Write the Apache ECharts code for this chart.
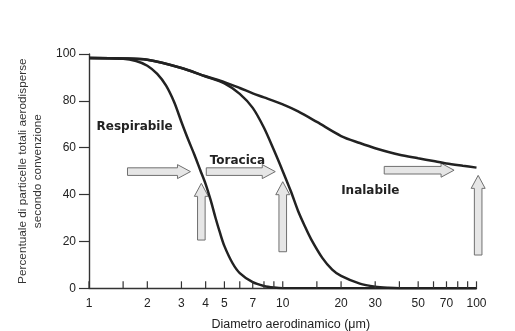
<!DOCTYPE html>
<html><head><meta charset="utf-8">
<script src="https://cdn.jsdelivr.net/npm/echarts@6/dist/echarts.min.js"></script>
<style>html,body{margin:0;padding:0;background:#fff}#c{width:515px;height:331px}</style>
</head><body><div id="c"></div>
<script>
// Diameters (µm) and percentages
const inhalD   = [1, 1.5, 2, 3, 4, 5, 6, 7, 8, 10, 12, 15, 20, 25, 30, 40, 50, 60, 70, 85, 100];
const inhalPct = [98.3, 98.1, 97.5, 94, 90.5, 88, 85.5, 83.2, 81.5, 78.5, 75.5, 71, 65, 62, 59.8, 57, 55.5, 54.3, 53.3, 52.3, 51.5];

const thorD   = [1, 1.5, 2, 3, 4, 5, 6, 7, 8, 9, 10, 11, 12, 13, 14, 16, 18, 20, 25, 30, 35, 40, 60, 100];
const thorPct = [98.3, 98.1, 97.5, 94, 90.4, 87.5, 83, 77, 68.5, 59, 50, 41.5, 33, 26.5, 21, 13, 8, 5.3, 2, 0.7, 0.2, 0, 0, 0];

const respD   = [1, 1.5, 1.75, 2, 2.25, 2.5, 2.75, 3, 3.25, 3.5, 3.75, 4, 4.25, 4.5, 4.75, 5, 5.5, 6, 7, 8, 9, 10, 12, 20, 100];
const respPct = [98.3, 98, 97, 95, 91.5, 86.5, 79.5, 71, 63.5, 57, 50.5, 44.5, 37.5, 30, 23.5, 18, 10.8, 6.5, 2.6, 1.0, 0.3, 0, 0, 0, 0];

// Arrow annotations (data units): from diameter/percent to diameter/percent
const arrowFromD   = [1.58, 4.03, 33.4, 3.8, 10, 102];
const arrowFromPct = [49.8, 49.8, 50.4, 20.6, 15.6, 14.2];
const arrowToD     = [3.34, 9.15, 76.6, 3.8, 10, 102];
const arrowToPct   = [49.8, 49.8, 50.4, 44.8, 45.5, 48.2];

// Region labels
const labelText = ['Respirabile', 'Toracica', 'Inalabile'];
const labelD    = [1.72, 5.83, 28.3];
const labelPct  = [68.8, 54.3, 41.5];

// Axis ticks / labels
const xTickValues  = [1, 1.5, 2, 3, 4, 5, 6, 7, 8, 9, 10, 15, 20, 30, 40, 50, 60, 70, 80, 90, 100];
const xLabelValues = [1, 2, 3, 4, 5, 7, 10, 20, 30, 50, 70, 100];

const pair = (xs, ys) => xs.map((x, i) => [x, ys[i]]);
const arrowData = arrowFromD.map((d, i) => [d, arrowFromPct[i], arrowToD[i], arrowToPct[i]]);
const labelData = labelD.map((d, i) => [d, labelPct[i], i]);
const tickData = xTickValues.map(v => [v, 0]);

function renderArrow(params, api) {
  const p1 = api.coord([api.value(0), api.value(1)]);
  const p2 = api.coord([api.value(2), api.value(3)]);
  const dx = p2[0] - p1[0], dy = p2[1] - p1[1];
  const len = Math.hypot(dx, dy);
  const ux = dx / len, uy = dy / len, nx = -uy, ny = ux;
  const sw = 3.8, hw = 7, hl = 13;
  const b = [p2[0] - ux * hl, p2[1] - uy * hl];
  const pts = [
    [p1[0] + nx * sw, p1[1] + ny * sw],
    [b[0] + nx * sw, b[1] + ny * sw],
    [b[0] + nx * hw, b[1] + ny * hw],
    [p2[0], p2[1]],
    [b[0] - nx * hw, b[1] - ny * hw],
    [b[0] - nx * sw, b[1] - ny * sw],
    [p1[0] - nx * sw, p1[1] - ny * sw]
  ];
  return { type: 'polygon', shape: { points: pts },
           style: { fill: '#e6e6e6', stroke: '#707070', lineWidth: 1 } };
}

function renderLabel(params, api) {
  const p = api.coord([api.value(0), api.value(1)]);
  return { type: 'text', x: p[0], y: p[1],
    style: { text: labelText[api.value(2)], fill: '#222',
      font: 'bold 12px "DejaVu Sans"', align: 'center', verticalAlign: 'middle' } };
}

function renderTick(params, api) {
  const p = api.coord([api.value(0), api.value(1)]);
  return { type: 'line', shape: { x1: p[0], y1: p[1], x2: p[0], y2: p[1] - 7 },
           style: { stroke: '#333', lineWidth: 1.2 } };
}

const lineStyle = { color: '#222', width: 2.5 };
const chart = echarts.init(document.getElementById('c'), null, { renderer: 'canvas' });
chart.setOption({
  animation: false,
  backgroundColor: '#fff',
  grid: { left: 89, right: 38.5, top: 54, bottom: 42.7, containLabel: false, outerBoundsMode: 'none' },
  xAxis: {
    type: 'log', logBase: 10, min: 1, max: 100,
    name: 'Diametro aerodinamico (\u03BCm)', nameLocation: 'middle', nameGap: 30,
    nameTextStyle: { fontFamily: 'Liberation Sans', fontSize: 12.5, color: '#222', padding: [0, 0, 0, 16] },
    axisLine: { lineStyle: { color: '#333', width: 1.4 } },
    axisTick: { show: false },
    axisLabel: { customValues: xLabelValues, margin: 9, fontFamily: 'Liberation Sans', fontSize: 12, color: '#222',
                 formatter: v => String(Math.round(v)) },
    splitLine: { show: false }, minorTick: { show: false }, minorSplitLine: { show: false }
  },
  yAxis: {
    type: 'value', min: 0, max: 100, interval: 20,
    name: 'Percentuale di particelle totali aerodisperse\nsecondo convenzione',
    nameLocation: 'middle', nameRotate: 90, nameGap: 38,
    nameTextStyle: { fontFamily: 'Liberation Sans', fontSize: 11.8, color: '#333', lineHeight: 15 },
    axisLine: { show: true, lineStyle: { color: '#333', width: 1.4 } },
    axisTick: { show: true, inside: false, length: 10, lineStyle: { color: '#333', width: 1.2 } },
    axisLabel: { margin: 13, fontFamily: 'Liberation Sans', fontSize: 12, color: '#222' },
    splitLine: { show: false }
  },
  series: [
    { name: 'Inalabile', type: 'line', data: pair(inhalD, inhalPct), smooth: 0.3,
      showSymbol: false, lineStyle: lineStyle, z: 3 },
    { name: 'Toracica', type: 'line', data: pair(thorD, thorPct), smooth: 0.3,
      showSymbol: false, lineStyle: lineStyle, z: 3 },
    { name: 'Respirabile', type: 'line', data: pair(respD, respPct), smooth: 0.3,
      showSymbol: false, lineStyle: lineStyle, z: 3 },
    { type: 'custom', data: tickData, renderItem: renderTick, encode: { x: 0, y: 1 }, clip: false, z: 5, silent: true },
    { type: 'custom', data: arrowData, renderItem: renderArrow, encode: { x: [0, 2], y: [1, 3] }, clip: false, z: 2, silent: true },
    { type: 'custom', data: labelData, renderItem: renderLabel, encode: { x: 0, y: 1 }, clip: false, z: 4, silent: true }
  ]
});
</script>
</body></html>
